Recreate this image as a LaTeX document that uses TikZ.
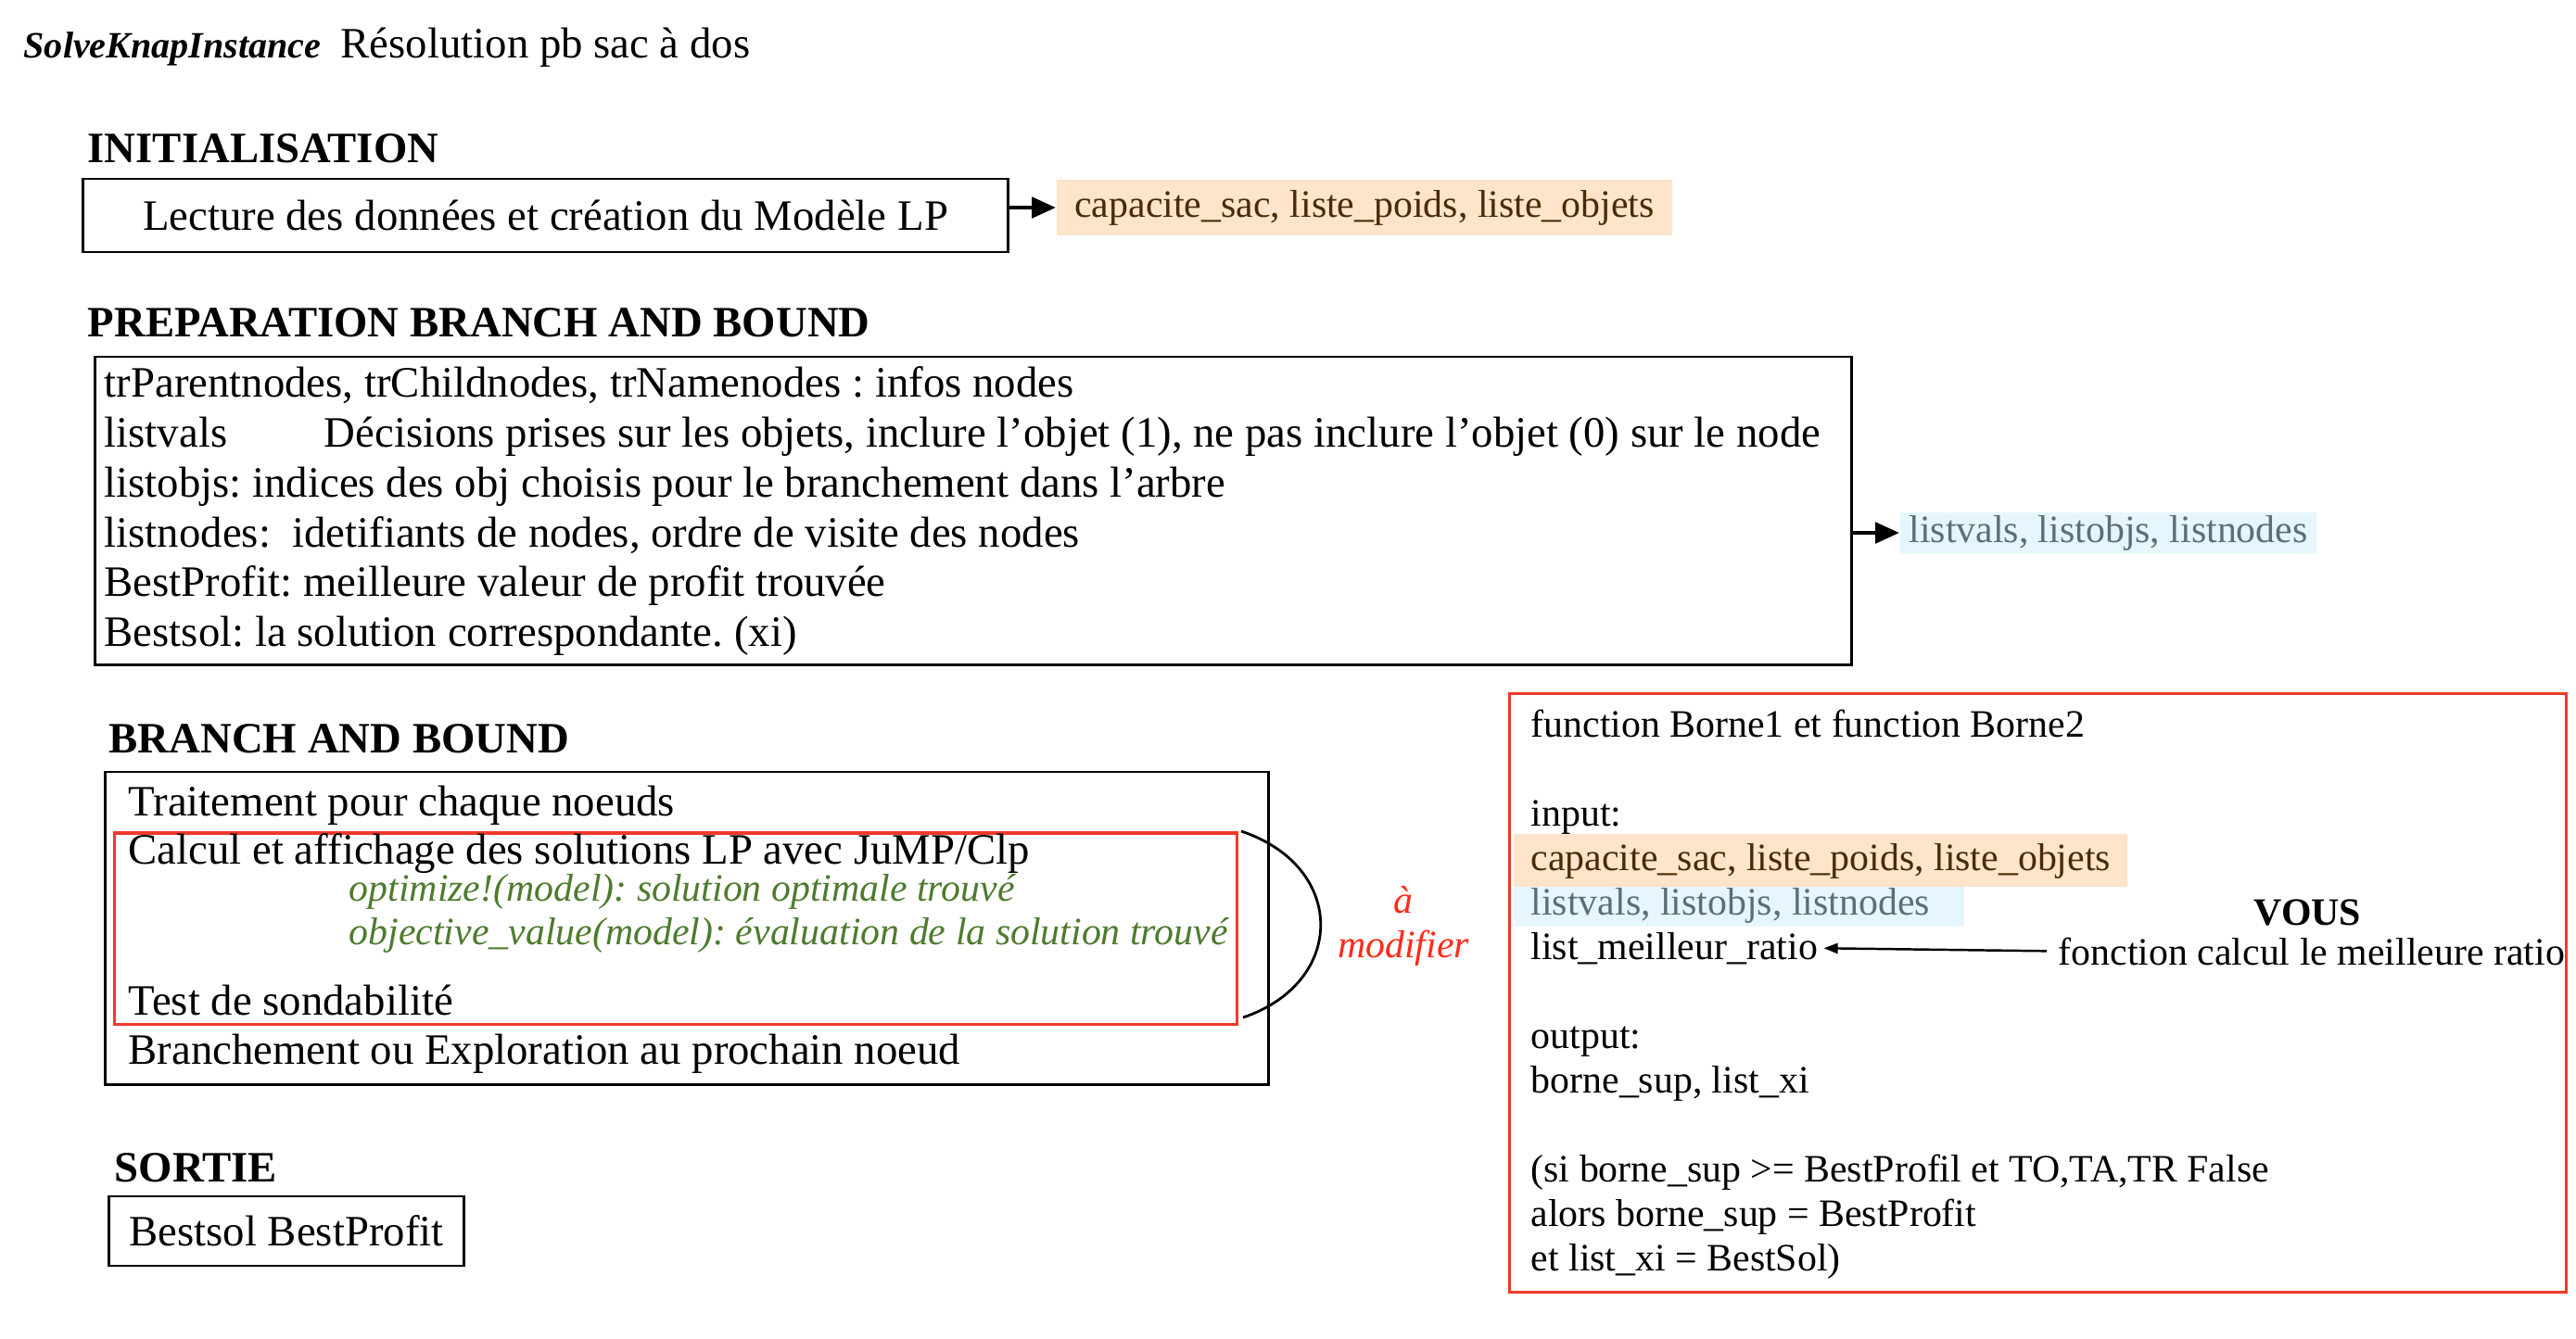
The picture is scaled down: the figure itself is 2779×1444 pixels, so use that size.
\documentclass[tikz,border=0pt]{standalone}
\usepackage{fontspec}
\setmainfont{Liberation Serif}
\usetikzlibrary{arrows.meta}
\definecolor{peach}{HTML}{FDE4CA}
\definecolor{peachtxt}{HTML}{4A2A08}
\definecolor{skyb}{HTML}{E7F6FD}
\definecolor{skytxt}{HTML}{5A6F7A}
\definecolor{greentxt}{HTML}{4E7B2E}
\definecolor{redbox}{HTML}{EE3B2B}
\definecolor{redtxt}{HTML}{FF2A1A}
\newcommand\fsbig{\fontsize{13.3pt}{16pt}\selectfont}
\newcommand\fssmall{\fontsize{11.9pt}{14pt}\selectfont}
\newcommand\fstitle{\fontsize{11.4pt}{14pt}\selectfont}
\frenchspacing
\begin{document}
\begin{tikzpicture}[x=0.01cm,y=-0.01cm,
 txt/.style={anchor=base west,inner sep=0pt,font=\fsbig},
 stxt/.style={anchor=base west,inner sep=0pt,font=\fssmall},
 head/.style={anchor=base west,inner sep=0pt,font=\fsbig\bfseries},
 frame/.style={draw,line width=0.8pt,inner sep=0pt},
 rframe/.style={draw=redbox,line width=0.9pt,inner sep=0pt},
 fatarrow/.style={line width=1.4pt,-{Triangle[length=0.26cm,width=0.22cm]}},
 thinarrow/.style={line width=0.7pt,-{Triangle[length=0.15cm,width=0.11cm]}},
 hlpeach/.style={fill=peach,inner sep=0pt},
 hlsky/.style={fill=skyb,inner sep=0pt},
]
\useasboundingbox[fill=white] (0,0) rectangle (2779,1444);

% title
\node[anchor=base west,inner sep=0pt,font=\fstitle\bfseries\itshape] (ttl1) at (25,62) {SolveKnapInstance};
\node[txt] (ttl2) at (367,62) {Résolution pb sac à dos};

% INITIALISATION
\node[head] (h1) at (94,175) {INITIALISATION};
\node[frame,font=\fsbig,minimum width=9.97cm,minimum height=0.79cm] (b1) at (588.5,232.5) {Lecture des données et création du Modèle LP};
\node[hlpeach,text=peachtxt,font=\fssmall,minimum width=6.64cm,minimum height=0.6cm] (o1) at (1472,224) {capacite\_sac, liste\_poids, liste\_objets};
\draw[fatarrow] (b1.east |- o1.west) -- (o1.west);

% PREPARATION
\node[head] (h2) at (94,363) {PREPARATION BRANCH AND BOUND};
\node[frame,minimum width=18.94cm,minimum height=3.32cm] (b2) at (1050,551) {};
\node[txt] (p1) at (112,428) {trParentnodes, trChildnodes, trNamenodes : infos nodes};
\node[txt] (p2) at (112,482) {listvals};
\node[txt] (p2b) at (349,482) {Décisions prises sur les objets, inclure l’objet (1), ne pas inclure l’objet (0) sur le node};
\node[txt] (p3) at (112,536) {listobjs: indices des obj choisis pour le branchement dans l’arbre};
\node[txt] (p4) at (112,590) {listnodes:\ \ idetifiants de nodes, ordre de visite des nodes};
\node[txt] (p5) at (112,643) {BestProfit: meilleure valeur de profit trouvée};
\node[txt] (p6) at (112,697) {Bestsol: la solution correspondante. (xi)};
\node[hlsky,text=skytxt,font=\fssmall,minimum width=4.49cm,minimum height=0.44cm] (s1) at (2274.5,575) {listvals, listobjs, listnodes};
\draw[fatarrow] (b2.east |- s1.west) -- (s1.west);

% BRANCH AND BOUND
\node[head] (h3) at (117,812) {BRANCH AND BOUND};
\node[frame,minimum width=12.54cm,minimum height=3.37cm] (b3) at (741,1001.5) {};
\node[rframe,minimum width=12.10cm,minimum height=2.06cm] (r3) at (729,1002) {};
\node[txt] (q1) at (138,880) {Traitement pour chaque noeuds};
\node[txt] (q2) at (138,932) {Calcul et affichage des solutions LP avec JuMP/Clp};
\node[stxt,text=greentxt,font=\fssmall\itshape] (q3) at (376,972) {optimize!(model): solution optimale trouvé};
\node[stxt,text=greentxt,font=\fssmall\itshape] (q4) at (376,1019) {objective\_value(model): évaluation de la solution trouvé};
\node[txt] (q5) at (138,1095) {Test de sondabilité};
\node[txt] (q6) at (138,1148) {Branchement ou Exploration au prochain noeud};
\coordinate (arcA) at (1339,897);
\coordinate (arcB) at (1341,1098);
\draw[line width=0.8pt] (arcA) .. controls (1453,935) and (1453,1060) .. (arcB);
\node[anchor=base,inner sep=0pt,font=\fssmall\itshape,text=redtxt] (m1) at (1514,985) {à};
\node[anchor=base,inner sep=0pt,font=\fssmall\itshape,text=redtxt] (m2) at (1514,1033) {modifier};

% SORTIE
\node[head] (h4) at (123,1275) {SORTIE};
\node[frame,font=\fsbig,minimum width=3.82cm,minimum height=0.75cm] (b4) at (309,1328.5) {Bestsol BestProfit};

% right box
\node[rframe,minimum width=11.39cm,minimum height=6.45cm] (rb) at (2198.5,1071.5) {};
\node[hlpeach,minimum width=6.62cm,minimum height=0.57cm] (hl1) at (1964,928.5) {};
\node[hlsky,minimum width=4.86cm,minimum height=0.43cm] (hl2) at (1876,978.5) {};
\node[stxt] (f1) at (1651,795) {function Borne1 et function Borne2};
\node[stxt] (f2) at (1651,891) {input:};
\node[stxt,text=peachtxt] (f3) at (1651,939) {capacite\_sac, liste\_poids, liste\_objets};
\node[stxt,text=skytxt] (f4) at (1651,987) {listvals, listobjs, listnodes};
\node[stxt] (f5) at (1651,1035) {list\_meilleur\_ratio};
\node[stxt] (f6) at (1651,1131) {output:};
\node[stxt] (f7) at (1651,1179) {borne\_sup, list\_xi};
\node[stxt] (f8) at (1651,1275) {(si borne\_sup >= BestProfil et TO,TA,TR False};
\node[stxt] (f9) at (1651,1323) {alors borne\_sup = BestProfit};
\node[stxt] (f10) at (1651,1371) {et list\_xi = BestSol)};
\node[stxt,font=\fssmall\bfseries] (vous) at (2431,998) {VOUS};
\node[stxt] (fc) at (2220,1041) {fonction calcul le meilleure ratio};
\draw[thinarrow,shorten <=0.12cm,shorten >=0.06cm] (fc.west) -- (f5.east);
\end{tikzpicture}
\end{document}
